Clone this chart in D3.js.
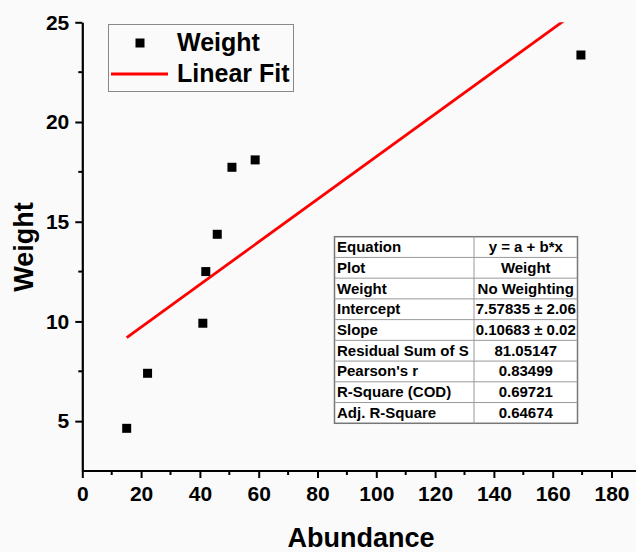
<!DOCTYPE html>
<html><head><meta charset="utf-8">
<script src="https://cdn.jsdelivr.net/npm/d3@7"></script>
<style>body{margin:0;background:#fafafa;}svg{display:block;}</style>
</head><body>
<script>
const abundance = [15.1, 22.2, 41.0, 42.0, 45.9, 50.9, 58.8, 169.6];
const weight = [4.64, 7.40, 9.91, 12.50, 14.37, 17.73, 18.10, 23.36];
const fitIntercept = 7.57835;
const fitSlope = 0.10683;
const xTicks = [0, 20, 40, 60, 80, 100, 120, 140, 160, 180];
const yTicks = [5, 10, 15, 20, 25];
const tableLabels = ["Equation", "Plot", "Weight", "Intercept", "Slope", "Residual Sum of S", "Pearson's r", "R-Square (COD)", "Adj. R-Square"];
const tableValues = ["y = a + b*x", "Weight", "No Weighting", "7.57835 \u00b1 2.06", "0.10683 \u00b1 0.02", "81.05147", "0.83499", "0.69721", "0.64674"];
const legendLabels = ["Weight", "Linear Fit"];

const W = 636, H = 552;
const svg = d3.select("body").append("svg").attr("width", W).attr("height", H);
svg.append("rect").attr("width", W).attr("height", H).attr("fill", "#fafafa");

const x0 = 82.3, y0 = 471;
const x = d3.scaleLinear().domain([0, 188]).range([x0, x0 + 188 * 2.94]);
const y = d3.scaleLinear().domain([2.5, 25]).range([y0, 22.3]);
const font = "Arial, 'Liberation Sans', sans-serif";

svg.append("clipPath").attr("id", "clip").append("rect")
  .attr("x", x(0)).attr("y", y(25)).attr("width", x(188) - x(0)).attr("height", y(2.5) - y(25));

// fit line
const xs = [d3.min(abundance), d3.max(abundance)];
svg.append("g").attr("clip-path", "url(#clip)").append("line")
  .attr("x1", x(xs[0])).attr("y1", y(fitIntercept + fitSlope * xs[0]))
  .attr("x2", x(xs[1])).attr("y2", y(fitIntercept + fitSlope * xs[1]))
  .attr("stroke", "#ff0000").attr("stroke-width", 2.8);

// points
const ms = 9;
svg.append("g").selectAll("rect").data(abundance).join("rect")
  .attr("x", (d) => x(d) - ms / 2).attr("y", (d, i) => y(weight[i]) - ms / 2)
  .attr("width", ms).attr("height", ms).attr("fill", "#000");

// axes
const xAxis = d3.axisBottom(x).tickValues(xTicks).tickSize(7).tickSizeOuter(0).tickPadding(8);
const gx = svg.append("g").attr("transform", `translate(0,${y0})`).call(xAxis);
gx.select(".domain").attr("stroke-width", 2.2).attr("d", `M${x(0)},0H${W}`);
gx.selectAll(".tick line").attr("stroke-width", 2);
gx.selectAll(".tick text").attr("font-family", font).attr("font-weight", "bold").attr("font-size", 21).attr("fill", "#000");
const xMinor = d3.range(10, 188, 20);
gx.selectAll(".minor").data(xMinor).join("line").attr("class", "minor")
  .attr("x1", (d) => x(d)).attr("x2", (d) => x(d)).attr("y1", 0).attr("y2", 4)
  .attr("stroke", "#000").attr("stroke-width", 2);

const yAxis = d3.axisLeft(y).tickValues(yTicks).tickSize(7).tickSizeOuter(0).tickPadding(6);
const gy = svg.append("g").attr("transform", `translate(${x0},0)`).call(yAxis);
gy.select(".domain").attr("stroke-width", 2.2);
gy.selectAll(".tick line").attr("stroke-width", 2);
gy.selectAll(".tick text").attr("font-family", font).attr("font-weight", "bold").attr("font-size", 21).attr("fill", "#000");
const yMinor = [7.5, 12.5, 17.5, 22.5];
gy.selectAll(".minor").data(yMinor).join("line").attr("class", "minor")
  .attr("y1", (d) => y(d)).attr("y2", (d) => y(d)).attr("x1", 0).attr("x2", -4)
  .attr("stroke", "#000").attr("stroke-width", 2);

// axis titles
svg.append("text").attr("x", 361).attr("y", 547).attr("text-anchor", "middle")
  .attr("font-family", font).attr("font-weight", "bold").attr("font-size", 27).text("Abundance");
svg.append("text").attr("transform", "translate(33,247) rotate(-90)").attr("text-anchor", "middle")
  .attr("font-family", font).attr("font-weight", "bold").attr("font-size", 27).text("Weight");

// legend
const lg = svg.append("g");
lg.append("rect").attr("x", 108.5).attr("y", 24.5).attr("width", 185).attr("height", 67)
  .attr("fill", "#fafafa").attr("stroke", "#888").attr("stroke-width", 1);
lg.append("rect").attr("x", 140 - 4.5).attr("y", 43 - 4.5).attr("width", 9).attr("height", 9).attr("fill", "#000");
lg.append("line").attr("x1", 111).attr("x2", 168).attr("y1", 74).attr("y2", 74).attr("stroke", "#ff0000").attr("stroke-width", 2.8);
lg.selectAll("text").data(legendLabels).join("text")
  .attr("x", 177).attr("y", (d, i) => 51 + i * 31)
  .attr("font-family", font).attr("font-weight", "bold").attr("font-size", 25).text((d) => d);

// table
const tx = 334.5, ty = 236.7, tw = 243, rh = 20.73, cx = 474;
const tg = svg.append("g");
tg.append("rect").attr("x", tx).attr("y", ty).attr("width", tw).attr("height", rh * tableLabels.length)
  .attr("fill", "#fff").attr("stroke", "#777").attr("stroke-width", 1.5);
tg.selectAll(".hl").data(d3.range(1, tableLabels.length)).join("line").attr("class", "hl")
  .attr("x1", tx).attr("x2", tx + tw).attr("y1", (d) => ty + d * rh).attr("y2", (d) => ty + d * rh)
  .attr("stroke", "#999").attr("stroke-width", 1);
tg.append("line").attr("x1", cx).attr("x2", cx).attr("y1", ty).attr("y2", ty + rh * tableLabels.length)
  .attr("stroke", "#999").attr("stroke-width", 1);
tg.selectAll(".lab").data(tableLabels).join("text").attr("class", "lab")
  .attr("x", tx + 2.5).attr("y", (d, i) => ty + i * rh + 15.4)
  .attr("font-family", font).attr("font-weight", "bold").attr("font-size", 15).text((d) => d);
tg.selectAll(".val").data(tableValues).join("text").attr("class", "val")
  .attr("x", (cx + tx + tw) / 2).attr("y", (d, i) => ty + i * rh + 15.4).attr("text-anchor", "middle")
  .attr("font-family", font).attr("font-weight", "bold").attr("font-size", 15).text((d) => d);
</script>
</body></html>
